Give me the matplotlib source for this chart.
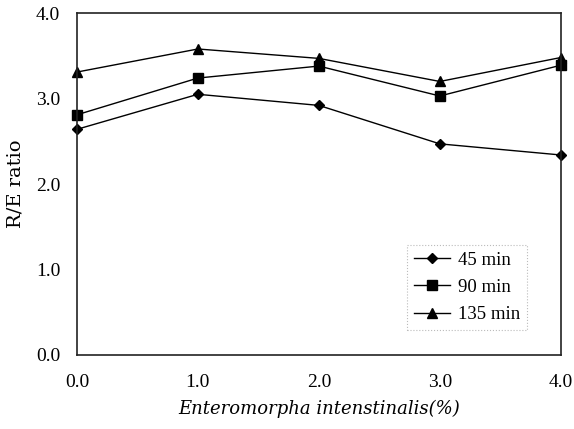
import matplotlib
matplotlib.use('Agg')
import matplotlib.pyplot as plt

# concentration (%) and R/E ratio per incubation time
conc = [0.0, 1.0, 2.0, 3.0, 4.0]
re_45 = [2.64, 3.05, 2.92, 2.47, 2.34]
re_90 = [2.81, 3.24, 3.38, 3.03, 3.39]
re_135 = [3.31, 3.58, 3.47, 3.20, 3.48]
tick_vals = [0.0, 1.0, 2.0, 3.0, 4.0]
tick_labels = ['0.0', '1.0', '2.0', '3.0', '4.0']

plt.rcParams['font.family'] = ['Liberation Serif', 'DejaVu Serif']

fig = plt.figure(figsize=(5.74, 4.29), dpi=100)
ax = fig.add_axes([0.134, 0.1725, 0.843, 0.797])

ax.plot(conc, re_45, color='black', lw=1, marker='D', ms=5.5, label='45 min', clip_on=False)
ax.plot(conc, re_90, color='black', lw=1, marker='s', ms=6.5, label='90 min', clip_on=False)
ax.plot(conc, re_135, color='black', lw=1, marker='^', ms=7, label='135 min', clip_on=False)

ax.set_xlim(0, 4)
ax.set_ylim(0, 4)
ax.set_xticks(tick_vals)
ax.set_xticklabels(tick_labels)
ax.set_yticks(tick_vals)
ax.set_yticklabels(tick_labels)
ax.tick_params(length=0, labelsize=14)
ax.tick_params(axis='x', pad=14)
ax.tick_params(axis='y', pad=12)

for s in ax.spines.values():
    s.set_linewidth(1.2)
    s.set_color('#222222')

ax.set_ylabel('R/E ratio', fontsize=14, family='DejaVu Serif', labelpad=8)
ax.set_xlabel('Enteromorpha intenstinalis(%)', fontsize=13, family='DejaVu Serif',
              style='italic', labelpad=6)

leg = ax.legend(loc='lower right', bbox_to_anchor=(0.93, 0.073), fontsize=13.5,
                frameon=True, fancybox=False, handlelength=1.9, labelspacing=0.55,
                borderpad=0.35, handletextpad=0.45, borderaxespad=0)
frame = leg.get_frame()
frame.set_edgecolor('#aaaaaa')
frame.set_linestyle(':')
frame.set_linewidth(0.8)

fig.savefig('out.png', dpi=100)
